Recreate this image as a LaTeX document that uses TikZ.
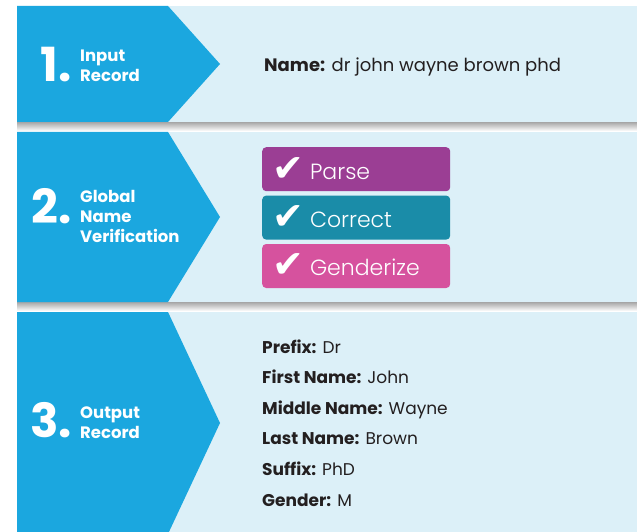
\documentclass[tikz,border=0pt]{standalone}
\usepackage{fontspec}
\setmainfont{Poppins}
\newfontfamily\lightfont{Poppins Light}
\newfontfamily\symfont{DejaVu Sans}
\usetikzlibrary{positioning}

\definecolor{stepblue}{HTML}{1BA7DF}
\definecolor{panelbg}{HTML}{DCF0F8}
\definecolor{parsecol}{HTML}{9B3E94}
\definecolor{correctcol}{HTML}{1A8CA8}
\definecolor{gendercol}{HTML}{D6529E}
\definecolor{inktext}{HTML}{231F20}

\tikzset{
  stepnum/.style={text=white, inner sep=0pt, anchor=base east,
    font=\bfseries\fontsize{47}{47}\selectfont},
  steplabel/.style={text=white, inner sep=0pt, anchor=base west, align=left,
    font=\bfseries\fontsize{16.5}{20}\selectfont},
  actionbtn/.style={rounded corners=4pt, minimum width=188pt, minimum height=44pt,
    inner xsep=10pt, inner ysep=0pt, text width=168pt, align=left, text=white,
    font=\lightfont\fontsize{22}{22}\selectfont},
  fieldline/.style={text=inktext, inner sep=0pt, anchor=base west,
    font=\fontsize{17}{17}\selectfont},
  dropshadow/.style={top color=black!35, bottom color=white}
}

\newcommand{\tick}{\raisebox{-2pt}{\symfont\fontsize{38}{38}\selectfont ✔}\hspace{6pt}}

\begin{document}
\begin{tikzpicture}[x=1pt,y=-1pt]
  \useasboundingbox (0,0) rectangle (637,532);
  \fill [white] (0,0) rectangle (637,532);

  % panels and their shadows
  \shade [dropshadow] (17,122) rectangle (637,131);
  \shade [dropshadow] (17,302) rectangle (637,311);
  \fill [panelbg] (17,6)   rectangle (637,122);
  \fill [panelbg] (17,132) rectangle (637,302);
  \fill [panelbg] (17,312) rectangle (637,532);

  % blue step arrows
  \fill [stepblue] (17,6)   -- (168,6)   -- (220,64)  -- (168,122) -- (17,122) -- cycle;
  \fill [stepblue] (17,132) -- (168,132) -- (220,217) -- (168,302) -- (17,302) -- cycle;
  \fill [stepblue] (17,312) -- (168,312) -- (220,423) -- (168,534) -- (17,534) -- cycle;

  % step 1
  \node [stepnum]   (num1) at (72,82)  {1.};
  \node [steplabel] (lab1) at (80,82)  {Input\\Record};
  \node [fieldline, font=\fontsize{18}{18}\selectfont] (name) at (264,72)
    {\textbf{Name:} dr john wayne brown phd};

  % step 2
  \node [stepnum]   (num2) at (72,223) {2.};
  \node [steplabel] (lab2) at (80,242) {Global\\Name\\Verification};
  \node [actionbtn, fill=parsecol, anchor=north west] (parse) at (262,147) {\tick Parse};
  \node [actionbtn, fill=correctcol, below=4pt of parse]   (correct)   {\tick Correct};
  \node [actionbtn, fill=gendercol,  below=4pt of correct] (genderize) {\tick Genderize};

  % step 3
  \node [stepnum]   (num3) at (72,437) {3.};
  \node [steplabel] (lab3) at (80,438) {Output\\Record};
  \node [fieldline] (prefix) at (262,353) {\textbf{Prefix:} Dr};
  \node [fieldline] (first)  at (262,383) {\textbf{First Name:} John};
  \node [fieldline] (middle) at (262,414) {\textbf{Middle Name:} Wayne};
  \node [fieldline] (last)   at (262,444) {\textbf{Last Name:} Brown};
  \node [fieldline] (suffix) at (262,475) {\textbf{Suffix:} PhD};
  \node [fieldline] (gender) at (262,506) {\textbf{Gender:} M};
\end{tikzpicture}
\end{document}
